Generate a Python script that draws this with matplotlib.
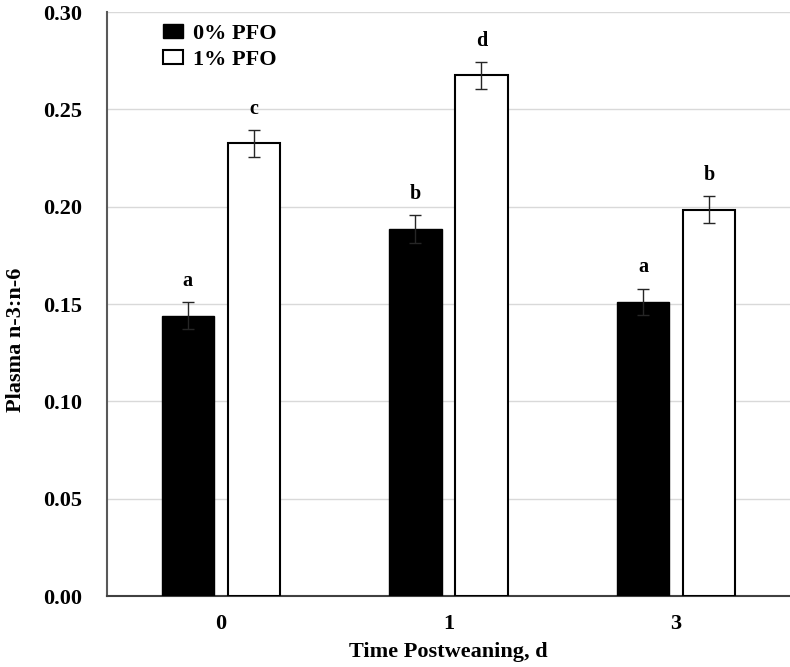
import numpy as np
import matplotlib.pyplot as plt

# Plasma n-3:n-6 ratio by day postweaning
days = ['0', '1', '3']
pfo0 = [0.144, 0.1885, 0.151]
pfo1 = [0.2325, 0.2675, 0.1985]
pfo0_err = [0.0070, 0.0070, 0.0067]
pfo1_err = [0.0068, 0.0070, 0.0070]
letters0 = ['a', 'b', 'a']
letters1 = ['c', 'd', 'b']

plt.rcParams['font.family'] = 'Liberation Serif'
plt.rcParams['font.weight'] = 'bold'

fig = plt.figure(figsize=(7.9, 6.67), dpi=100)
ax = fig.add_axes([0.1354, 0.1064, 0.8646, 0.8756])

x = np.arange(len(days))
w = 0.23
off = 0.145

ax.bar(x - off, pfo0, w, color='black', edgecolor='black', label='0% PFO', zorder=3)
ax.bar(x + off, pfo1, w, color='white', edgecolor='black', linewidth=1.5, label='1% PFO', zorder=3)
ax.errorbar(x - off, pfo0, yerr=pfo0_err, fmt='none', ecolor='#262626', elinewidth=1, capsize=4, zorder=4)
ax.errorbar(x + off, pfo1, yerr=pfo1_err, fmt='none', ecolor='#262626', elinewidth=1, capsize=4, zorder=4)

# significance letters above the bars
for i in range(len(days)):
    ax.text(x[i] - off, pfo0[i] + 0.0152, letters0[i], ha='center', va='baseline',
            fontsize=14.5, fontweight='bold')
    ax.text(x[i] + off, pfo1[i] + 0.0152, letters1[i], ha='center', va='baseline',
            fontsize=14.5, fontweight='bold')

ax.set_xlim(-0.5, 2.5)
ax.set_ylim(0, 0.30)
ax.set_yticks(np.arange(0, 0.31, 0.05))
ax.set_yticklabels(['%.2f' % v for v in np.arange(0, 0.31, 0.05)])
ax.set_xticks(x)
ax.set_xticklabels(days)
ax.tick_params(axis='both', length=0, labelsize=16)
ax.tick_params(axis='y', pad=18)
ax.tick_params(axis='x', pad=13)
ax.yaxis.grid(True, color='#d9d9d9', linewidth=1)
ax.set_axisbelow(True)

for s in ['top', 'right']:
    ax.spines[s].set_visible(False)
ax.spines['left'].set_color('#595959')
ax.spines['left'].set_linewidth(1.5)
ax.spines['bottom'].set_color('#404040')
ax.spines['bottom'].set_linewidth(1.5)

ax.set_xlabel('Time Postweaning, d', fontsize=16, fontweight='bold', labelpad=6)
fig.text(16 / 790, 1 - 340 / 667, 'Plasma n-3:n-6', rotation=90, ha='center', va='center',
         fontsize=16, fontweight='bold')

leg = ax.legend(loc='upper left', bbox_to_anchor=(0.053, 1.014), frameon=False, fontsize=16,
                handlelength=0.9, handleheight=0.55, handletextpad=0.45, labelspacing=0.27)

fig.savefig('out.png', dpi=100)
